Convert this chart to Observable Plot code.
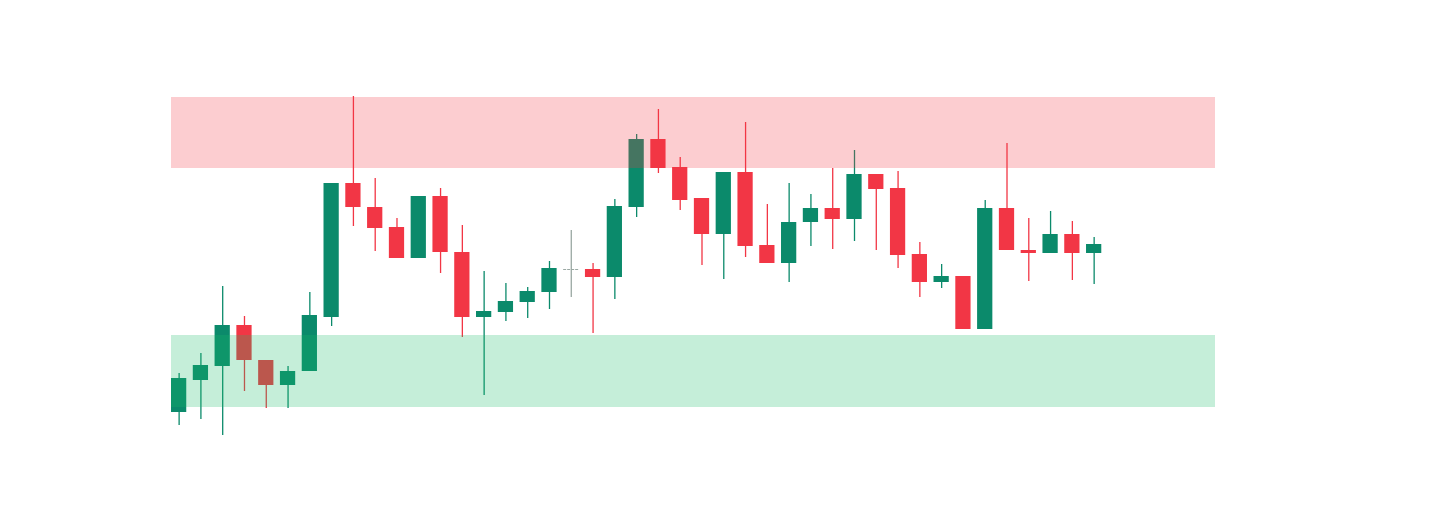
<!DOCTYPE html>
<html>
<head>
<meta charset="utf-8">
<script src="https://cdn.jsdelivr.net/npm/d3@7"></script>
<script src="https://cdn.jsdelivr.net/npm/@observablehq/plot@0.6"></script>
<style>
  html, body { margin: 0; padding: 0; background: #ffffff; }
  #chart svg { display: block; }
</style>
</head>
<body>
<div id="chart"></div>
<script>
// Candle prices (arbitrary price units), one entry per session
const open  = [116,148,162,203,168,143,157,211,345,321,301,270,332,276,211,216,226,236,259,259,251,321,389,361,330,294,356,283,265,306,320,309,354,340,274,246,252,199,320,278,275,294,275];
const close = [150,163,203,168,143,157,213,345,321,300,270,332,276,211,217,227,237,260,259,251,322,389,360,328,294,356,282,265,306,320,309,354,339,273,246,252,199,320,278,275,294,275,284];
const high  = [155,175,242,212,168,162,236,345,432,350,310,332,340,303,257,245,241,267,298,265,329,394,419,371,330,356,406,324,345,334,360,378,354,357,286,264,252,328,385,310,317,307,291];
const low   = [103,109, 93,137,120,120,157,202,302,277,270,270,255,191,133,207,210,219,231,195,229,311,355,318,263,249,271,265,246,282,279,287,278,260,231,240,199,199,278,247,275,248,244];

// Total session slots on the time axis (trailing slots are empty)
const slotCount = 48;

// Supply / demand zones
const zoneNames = ["resistance", "support"];
const zoneLow   = [360, 121];
const zoneHigh  = [431, 193];
const zoneColor = ["#f23645", "#17bb67"];

const upColor = "#0b8a6b";
const downColor = "#f23645";
const dojiColor = "#9aa8a3";

const candles = open.map((o, i) => ({
  i, open: o, close: close[i], high: high[i], low: low[i],
  dir: close[i] > o ? "up" : close[i] < o ? "down" : "doji"
}));
const colorOf = d => d.dir === "up" ? upColor : d.dir === "down" ? downColor : dojiColor;
const zones = zoneNames.map((n, k) => ({name: n, y1: zoneLow[k], y2: zoneHigh[k], color: zoneColor[k]}));

const chart = Plot.plot({
  width: 1440,
  height: 528,
  marginLeft: 171,
  marginRight: 225,
  marginTop: 0,
  marginBottom: 0,
  x: {type: "band", domain: d3.range(slotCount), paddingInner: 0.3, paddingOuter: 0.11, align: 0, round: false, axis: null},
  y: {domain: [0, 528], axis: null},
  marks: [
    Plot.ruleX(candles, {x: "i", y1: "low", y2: "high", stroke: colorOf, strokeWidth: 1.3}),
    Plot.barY(candles.filter(d => d.dir !== "doji"), {x: "i", y1: "open", y2: "close", fill: colorOf}),
    Plot.tickY(candles.filter(d => d.dir === "doji"), {x: "i", y: "open", stroke: dojiColor, strokeWidth: 1.2, strokeDasharray: "3,1"}),
    Plot.rect(zones, {y1: "y1", y2: "y2", fill: d => d.color, fillOpacity: 0.25})
  ]
});
document.getElementById("chart").appendChild(chart);
</script>
</body>
</html>
